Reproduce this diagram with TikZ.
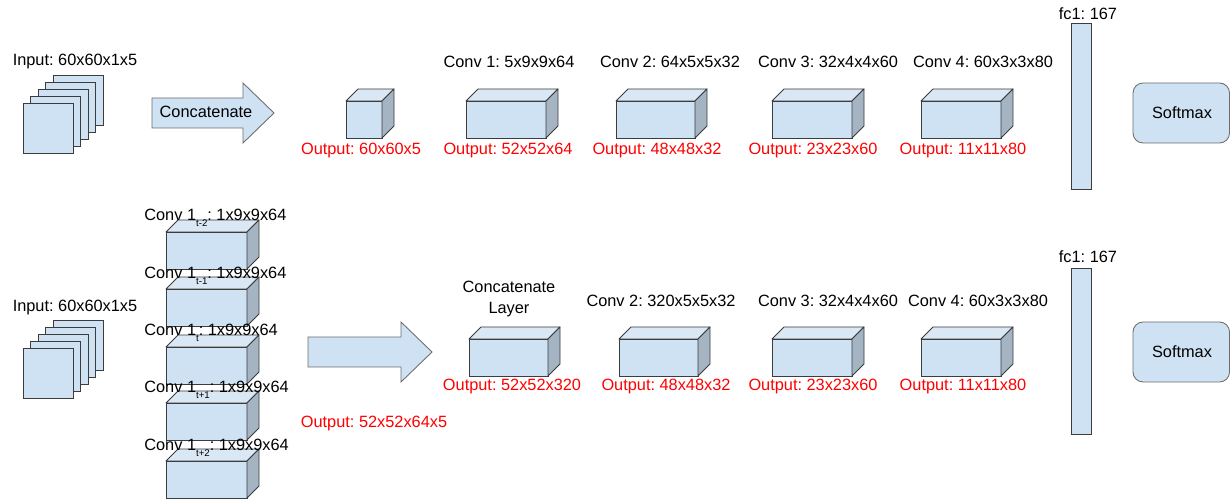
\documentclass[tikz,border=0pt]{standalone}
\usepackage{fontspec}
\setmainfont{Liberation Sans}
\frenchspacing

\definecolor{cubefront}{HTML}{CFE2F3}
\definecolor{cubetop}{HTML}{DAE7F4}
\definecolor{cubeside}{HTML}{A4B4C3}
\definecolor{cubeline}{HTML}{3C3C3C}

\tikzset{
  lbl/.style={inner sep=0pt, font=\fontsize{9.3}{11}\selectfont},
  outlbl/.style={lbl, text=red},
  frontface/.style={draw=cubeline, fill=cubefront, line width=0.5pt},
  topface/.style={draw=cubeline, fill=cubetop, line width=0.5pt, line join=round},
  sideface/.style={draw=cubeline, fill=cubeside, line width=0.5pt, line join=round},
  blockarrow/.style={draw=cubeline!75, fill=cubefront, line width=0.5pt},
  softbox/.style={draw=cubeline!75, fill=cubefront, line width=0.5pt, rounded corners=0.2cm}
}

% front face top-left corner (x,y), width, height -- in pixels
\newcommand{\convcube}[4]{%
  \draw[frontface] (#1,#2) rectangle (#1+#3,#2+#4);
  \draw[topface] (#1,#2) -- (#1+12,#2-12) -- (#1+#3+12,#2-12) -- (#1+#3,#2) -- cycle;
  \draw[sideface] (#1+#3,#2) -- (#1+#3+12,#2-12) -- (#1+#3+12,#2+#4-12) -- (#1+#3,#2+#4) -- cycle;
}
\newcommand{\lowsub}[1]{\raisebox{-0.75ex}{\fontsize{5.5}{6}\selectfont #1}}

\begin{document}
\begin{tikzpicture}[x=0.02cm, y=-0.02cm]
\useasboundingbox (0,0) rectangle (1230,499);

%% top row
\node[lbl] (intop) at (75,61) {Input: 60x60x1x5};
\draw[frontface] (53,75) rectangle ++(50,50);
\draw[frontface] (45.5,82) rectangle ++(50,50);
\draw[frontface] (38,89) rectangle ++(50,50);
\draw[frontface] (30.5,96) rectangle ++(50,50);
\draw[frontface] (23,103) rectangle ++(50,50);

\draw[blockarrow] (152,98) -- (243,98) -- (243,83) -- (274,113) -- (243,143) -- (243,128) -- (152,128) -- cycle;
\node[lbl] (cattop) at (206,112) {Concatenate};

\convcube{346}{101}{36}{37}
\node[outlbl] (out0) at (361,150) {Output: 60x60x5};

\convcube{466}{101}{80}{37}
\node[lbl] (c1top) at (509,62) {Conv 1: 5x9x9x64};
\node[outlbl] (out1) at (508,150) {Output: 52x52x64};

\convcube{616}{101}{79}{37}
\node[lbl] (c2top) at (670,62) {Conv 2: 64x5x5x32};
\node[outlbl] (out2) at (657,150) {Output: 48x48x32};

\convcube{772}{101}{80}{37}
\node[lbl] (c3top) at (828,62) {Conv 3: 32x4x4x60};
\node[outlbl] (out3) at (813,150) {Output: 23x23x60};

\convcube{921}{101}{80}{37}
\node[lbl] (c4top) at (983,62) {Conv 4: 60x3x3x80};
\node[outlbl] (out4) at (963,150) {Output: 11x11x80};

\draw[frontface] (1071,23) rectangle (1091,189);
\node[lbl] (fctop) at (1088,14) {fc1: 167};
\draw[softbox] (1133,83) rectangle (1229.5,143);
\node[lbl] (smtop) at (1182,113) {Softmax};

%% bottom row
\node[lbl] (inbot) at (75,307) {Input: 60x60x1x5};
\draw[frontface] (53,320) rectangle ++(50,50);
\draw[frontface] (45.5,327) rectangle ++(50,50);
\draw[frontface] (38,334) rectangle ++(50,50);
\draw[frontface] (30.5,341) rectangle ++(50,50);
\draw[frontface] (23,348) rectangle ++(50,50);

\convcube{166}{232}{81}{37}
\node[lbl, anchor=west] (t2) at (144,218) {Conv 1\lowsub{t-2}: 1x9x9x64};
\convcube{166}{289}{81}{37}
\node[lbl, anchor=west] (t1) at (144,276) {Conv 1\lowsub{t-1}: 1x9x9x64};
\convcube{166}{347}{81}{37}
\node[lbl, anchor=west] (t0) at (144,333) {Conv 1\lowsub{t}: 1x9x9x64};
\convcube{166}{403}{81}{37}
\node[lbl, anchor=west] (p1) at (144,390) {Conv 1\lowsub{t+1}: 1x9x9x64};
\convcube{166}{461}{81}{37}
\node[lbl, anchor=west] (p2) at (144,448) {Conv 1\lowsub{t+2}: 1x9x9x64};

\draw[blockarrow] (308,337) -- (401,337) -- (401,322) -- (432,352) -- (401,382) -- (401,367) -- (308,367) -- cycle;
\node[outlbl] (outcat) at (374,423) {Output: 52x52x64x5};

\convcube{469}{339}{79}{37}
\node[lbl, align=center] (catbot) at (509,299) {Concatenate\\[1pt]Layer};
\node[outlbl] (out5) at (512,386) {Output: 52x52x320};

\convcube{619}{339}{79}{37}
\node[lbl] (c2bot) at (661,301) {Conv 2: 320x5x5x32};
\node[outlbl] (out6) at (666,386) {Output: 48x48x32};

\convcube{772}{339}{80}{37}
\node[lbl] (c3bot) at (828,301) {Conv 3: 32x4x4x60};
\node[outlbl] (out7) at (813,386) {Output: 23x23x60};

\convcube{921}{339}{80}{37}
\node[lbl] (c4bot) at (978,301) {Conv 4: 60x3x3x80};
\node[outlbl] (out8) at (963,386) {Output: 11x11x80};

\draw[frontface] (1071,268) rectangle (1091,434);
\node[lbl] (fcbot) at (1088,257) {fc1: 167};
\draw[softbox] (1133,322) rectangle (1229.5,382);
\node[lbl] (smbot) at (1182,352) {Softmax};

\end{tikzpicture}
\end{document}
